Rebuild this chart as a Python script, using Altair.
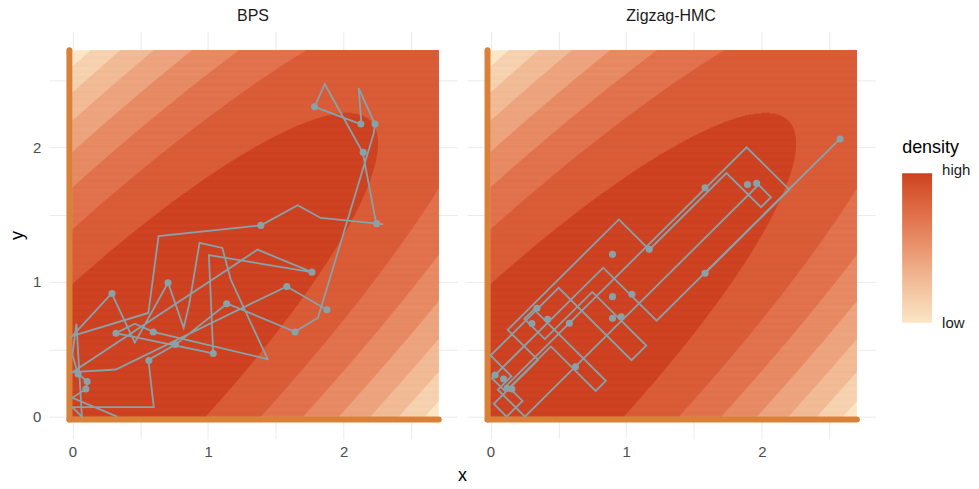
import numpy as np
import pandas as pd
import altair as alt

# ---------------- data ----------------
# BPS trajectory vertices (x, y)
bps_path_x = [0.33, 0.00, 0.10, 0.11, 0.04, 0.00, 0.03, 0.07, 0.00, 0.60, 0.56, 0.76, 1.14, 1.64, 1.81,
              2.22, 2.23, 2.11, 2.13, 1.785, 1.86, 2.14, 2.24, 2.29, 1.83, 1.66, 1.39, 0.635, 0.56, 0.00,
              0.29, 0.46, 0.705, 0.82, 0.86, 0.937, 1.105, 1.167, 1.439, 0.596, 0.46, 0.32, 1.038, 1.006,
              1.765, 1.365, 0.00, 0.32, 1.58, 1.876]
bps_path_y = [0.00, 0.14, 0.205, 0.26, 0.32, 0.46, 0.69, 0.00, 0.07, 0.07, 0.42, 0.535, 0.84, 0.63, 0.735,
              2.10, 2.17, 2.44, 2.17, 2.30, 2.47, 1.96, 1.43, 1.43, 1.475, 1.57, 1.42, 1.34, 0.77, 0.60,
              0.915, 0.55, 0.994, 0.66, 0.83, 1.29, 1.253, 1.018, 0.427, 0.629, 0.69, 0.62, 0.469, 1.199,
              1.073, 1.24, 0.33, 0.35, 0.967, 0.794]
# BPS samples (dots)
bps_pts_x = [1.785, 2.126, 2.23, 2.143, 2.242, 1.389, 1.765, 1.58, 1.876, 1.641, 1.137, 0.705, 0.292,
             0.321, 0.596, 0.759, 0.564, 1.038, 0.042, 0.109, 0.099]
bps_pts_y = [2.30, 2.173, 2.173, 1.963, 1.433, 1.420, 1.073, 0.967, 0.794, 0.629, 0.838, 0.994, 0.915,
             0.619, 0.629, 0.535, 0.417, 0.469, 0.316, 0.261, 0.205]

# Zigzag-HMC trajectory vertices (x, y)
zz_path_x = [1.581, 2.202, 1.887, 0.120, 0.236, 0.119, 0.024, 0.350, 0.1265, 0.946, 1.170, 1.739, 1.993,
             2.067, 1.975, 0.400, 0.254, 0.054, 0.154, 0.000, 0.502, 1.039, 1.148, 0.750, 0.400, 0.250,
             0.320, 0.420, 0.850, 0.775, 0.445, 0.110, 0.010, 0.830, 1.224, 2.576]
zz_path_y = [1.064, 1.685, 2.000, 0.233, 0.117, 0.000, 0.095, 0.421, 0.6445, 1.464, 1.240, 1.809, 1.555,
             1.629, 1.721, 0.146, 0.000, 0.200, 0.300, 0.454, 0.956, 0.419, 0.528, 0.926, 0.576, 0.726,
             0.796, 0.696, 0.266, 0.191, 0.521, 0.186, 0.286, 1.106, 0.712, 2.064]
# Zigzag-HMC samples (dots)
zz_pts_x = [2.576, 1.581, 1.894, 1.961, 1.581, 1.170, 0.899, 0.899, 1.042, 0.899, 0.963, 0.342, 0.305,
            0.421, 0.581, 0.626, 0.034, 0.096, 0.121, 0.158]
zz_pts_y = [2.062, 1.064, 1.723, 1.733, 1.699, 1.242, 1.205, 0.891, 0.909, 0.731, 0.741, 0.805, 0.691,
            0.723, 0.694, 0.370, 0.309, 0.279, 0.210, 0.205]

# target density (bivariate normal, correlation 0.9) and its filled-contour levels
RHO = 0.9
LEVELS_D2 = [5.07, 10.14, 15.21, 20.28, 25.35, 30.42, 35.49]   # squared Mahalanobis distance
GRID_X_MAX = 2.70
GRID_Y_MAX = 2.72
BAND_COLORS = ["#CC4120", "#D85B36", "#E0714C", "#E68962", "#ECA27C", "#F1B994", "#F6D0AE", "#FBE6C6"]

# ---------------- build contour bands as thin horizontal strips ----------------
NROWS = 420
edges = np.linspace(0, GRID_Y_MAX, NROWS + 1)
step = edges[1] - edges[0]
rows = []
nb = len(BAND_COLORS)
rows.append(dict(level=nb - 1, t=0.0, lo=0.0, hi=GRID_X_MAX, y0=0.0, y1=GRID_Y_MAX))
for k in range(nb - 1):
    t = 1 - k / (nb - 1)
    L = LEVELS_D2[k]
    for i in range(NROWS):
        yv = 0.5 * (edges[i] + edges[i + 1])
        if yv ** 2 >= L:
            continue
        s = np.sqrt((1 - RHO ** 2) * (L - yv ** 2))
        lo = max(0.0, RHO * yv - s)
        hi = min(GRID_X_MAX, RHO * yv + s)
        if hi - lo > 1e-4:
            y1 = min(GRID_Y_MAX, edges[i + 1] + 0.4 * step)
            rows.append(dict(level=k, t=t, lo=float(lo), hi=float(hi), y0=float(edges[i]), y1=float(y1)))
bg = pd.DataFrame(rows).sort_values("level", ascending=False, kind="stable").reset_index(drop=True)

B = -0.022
bound = pd.DataFrame({"x": [B, B], "y": [B, B], "x2": [B, 2.70], "y2": [2.72, B]})

ORANGE = "#DA8139"
PATHC = "#89A2A9"
GRID = "#EBEBEB"
FONT = "Liberation Sans"

xscale = alt.Scale(domain=[-0.173, 2.835], nice=False, zero=False)
yscale = alt.Scale(domain=[-0.163, 2.86], nice=False, zero=False)
ticks = [0, 0.5, 1, 1.5, 2, 2.5]
lab = "datum.value % 1 === 0 ? format(datum.value, 'd') : ''"

color_scale = alt.Scale(domain=[0, 1], range=BAND_COLORS[::-1])
PW, PH = 409, 408


def panel(px, py, qx, qy, title, left):
    xaxis = alt.Axis(values=ticks, labelExpr=lab, grid=True, gridColor=GRID, ticks=False, tickSize=0,
                     domain=False, labelPadding=6, labelColor="#4D4D4D", labelFontSize=15, labelFont=FONT,
                     title="x" if left else None, titleFontSize=18, titleFont=FONT, titleFontWeight="normal",
                     titleColor="#000000", titleX=PW + 5, titlePadding=7)
    yaxis = alt.Axis(values=ticks, labelExpr=lab, grid=True, gridColor=GRID, ticks=False, tickSize=0,
                     domain=False, labels=left, labelPadding=8, labelColor="#4D4D4D", labelFontSize=15,
                     labelFont=FONT, title="y" if left else None, titleFontSize=18, titleFont=FONT,
                     titleFontWeight="normal", titleColor="#000000", titlePadding=6)
    X = lambda f: alt.X(f, type="quantitative", scale=xscale, axis=xaxis)
    Y = lambda f: alt.Y(f, type="quantitative", scale=yscale, axis=yaxis)

    background = (
        alt.Chart(bg).mark_rect(strokeWidth=0)
        .encode(x=X("lo"), x2="hi", y=Y("y0"), y2="y1",
                color=alt.Color("t:Q", scale=color_scale,
                                legend=alt.Legend(title="density", values=[-0.053, 1.07],
                                                  labelExpr="datum.value >= 1 ? 'high' : 'low'",
                                                  orient="none", legendX=855, legendY=108,
                                                  gradientLength=150, gradientThickness=30,
                                                  titleFontSize=18, titleFont=FONT,
                                                  titleFontWeight="normal", titleColor="#000",
                                                  labelFontSize=15, labelFont=FONT, labelOverlap=False,
                                                  labelColor="#1A1A1A", titlePadding=16,
                                                  labelOffset=10)))
    )
    boundary = (
        alt.Chart(bound).mark_rule(color=ORANGE, strokeWidth=6, strokeCap="round")
        .encode(x=X("x"), y=Y("y"), x2="x2", y2="y2")
    )
    pdf = pd.DataFrame({"x": px, "y": py, "i": range(len(px))})
    path = (
        alt.Chart(pdf).mark_line(color=PATHC, strokeWidth=1.8)
        .encode(x=X("x"), y=Y("y"), order="i:Q")
    )
    qdf = pd.DataFrame({"x": qx, "y": qy})
    pts = (
        alt.Chart(qdf).mark_circle(color=PATHC, size=50, opacity=1)
        .encode(x=X("x"), y=Y("y"))
    )
    return alt.layer(background, boundary, path, pts).properties(
        width=PW, height=PH,
        title=alt.TitleParams(title, fontSize=16, font=FONT, fontWeight="normal", color="#1A1A1A",
                              anchor="middle", offset=7))


left = panel(bps_path_x, bps_path_y, bps_pts_x, bps_pts_y, "BPS", True)
right = panel(zz_path_x, zz_path_y, zz_pts_x, zz_pts_y, "Zigzag-HMC", False)

chart = (
    alt.hconcat(left, right, spacing=10, bounds="flush")
    .resolve_scale(color="shared")
    .properties(padding={"left": 0, "top": 0, "right": 0, "bottom": 0}, background="white")
    .configure_view(stroke=None)
)

chart.save("out.html", embed_options={"renderer": "svg", "actions": False})
